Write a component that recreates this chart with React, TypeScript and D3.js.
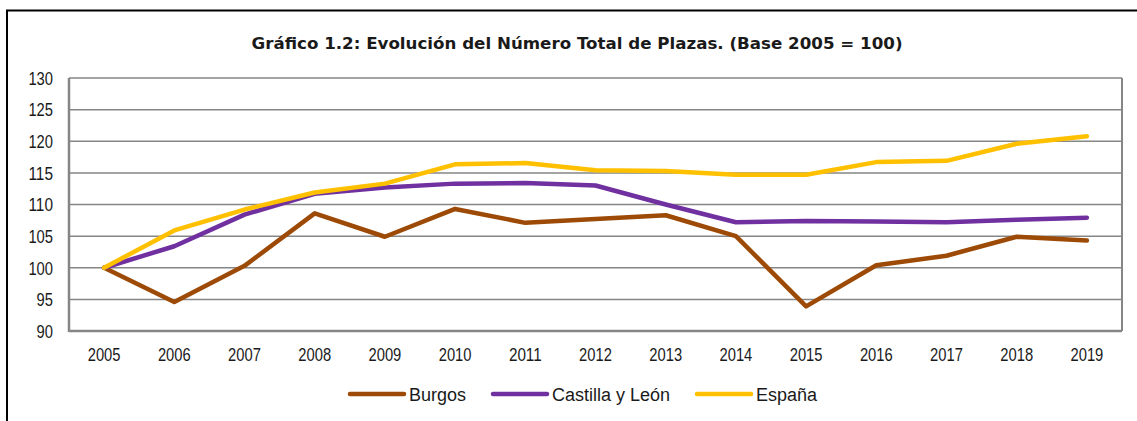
import * as d3 from "d3";

// Evolución del número total de plazas (base 2005 = 100)
const years = ["2005", "2006", "2007", "2008", "2009", "2010", "2011", "2012", "2013", "2014", "2015", "2016", "2017", "2018", "2019"];
const burgos = [100, 94.6, 100.3, 108.6, 104.9, 109.3, 107.1, 107.7, 108.3, 105.0, 93.9, 100.4, 101.9, 104.9, 104.3];
const castillaLeon = [100, 103.4, 108.4, 111.7, 112.7, 113.3, 113.4, 113.0, 110.0, 107.2, 107.4, 107.3, 107.2, 107.6, 107.9];
const espana = [100, 105.9, 109.2, 111.9, 113.3, 116.35, 116.55, 115.4, 115.3, 114.7, 114.7, 116.7, 116.9, 119.6, 120.8];
const yTicks = [90, 95, 100, 105, 110, 115, 120, 125, 130];

const seriesNames = ["Burgos", "Castilla y León", "España"];
const seriesValues = [burgos, castillaLeon, espana];
const colors = ["#9C4A06", "#7030A0", "#FFC000"];

const W = 1137;
const H = 421;
const PLOT = { left: 69, right: 1122, top: 78, bottom: 331 };
const LABEL_FONT = "'Liberation Sans', Arial, sans-serif";
const TITLE_FONT = "'DejaVu Sans', Verdana, sans-serif";
// las etiquetas de los ejes van en letra estrecha (tipo Arial Narrow)
const DIGIT_W = 8.2;

export default function App() {
  const x = d3.scaleBand<string>().domain(years).range([PLOT.left, PLOT.right]);
  const y = d3.scaleLinear().domain([90, 130]).range([PLOT.bottom, PLOT.top]);
  const cx = (yr: string) => (x(yr) ?? 0) + x.bandwidth() / 2;

  const line = d3
    .line<number>()
    .x((_, i) => cx(years[i]))
    .y((d) => y(d));

  // leyenda: posición de cada entrada
  const legendX = [350, 493, 697];

  return (
    <div style={{ position: "absolute", left: 0, top: 0 }}>
      <svg width={W} height={H} style={{ display: "block", background: "#fff" }}>
        {/* marco exterior */}
        <rect x={7} y={10.5} width={W + 20} height={H + 20} fill="none" stroke="#000" strokeWidth={2} />

        <text
          x={577}
          y={49}
          textAnchor="middle"
          fontFamily={TITLE_FONT}
          fontWeight="bold"
          fontSize={15.5}
          fill="#1a1a1a"
          textLength={651}
          lengthAdjust="spacingAndGlyphs"
        >
          Gráfico 1.2: Evolución del Número Total de Plazas. (Base 2005 = 100)
        </text>

        {/* rejilla */}
        {yTicks.map((t) => (
          <line key={t} x1={PLOT.left} x2={PLOT.right} y1={y(t)} y2={y(t)} stroke="#868686" strokeWidth={1.5} />
        ))}
        <line x1={PLOT.right} x2={PLOT.right} y1={PLOT.top} y2={PLOT.bottom} stroke="#868686" strokeWidth={2} />
        <line x1={PLOT.left} x2={PLOT.left} y1={PLOT.top} y2={PLOT.bottom + 1} stroke="#868686" strokeWidth={2.5} />
        <line x1={PLOT.left} x2={PLOT.right} y1={PLOT.bottom} y2={PLOT.bottom} stroke="#868686" strokeWidth={2.5} />

        {/* eje Y */}
        {yTicks.map((t) => (
          <text
            key={t}
            x={53}
            y={y(t)}
            dy="0.36em"
            textAnchor="end"
            fontFamily={LABEL_FONT}
            fontSize={19}
            fill="#1a1a1a"
            textLength={String(t).length * DIGIT_W}
            lengthAdjust="spacingAndGlyphs"
          >
            {t}
          </text>
        ))}

        {/* eje X */}
        {years.map((yr) => (
          <text
            key={yr}
            x={cx(yr)}
            y={361}
            textAnchor="middle"
            fontFamily={LABEL_FONT}
            fontSize={19}
            fill="#1a1a1a"
            textLength={yr.length * DIGIT_W}
            lengthAdjust="spacingAndGlyphs"
          >
            {yr}
          </text>
        ))}

        {/* series */}
        {seriesValues.map((vals, i) => (
          <path
            key={seriesNames[i]}
            d={line(vals) ?? ""}
            fill="none"
            stroke={colors[i]}
            strokeWidth={4.5}
            strokeLinejoin="round"
            strokeLinecap="round"
          />
        ))}

        {/* leyenda */}
        {seriesNames.map((name, i) => (
          <g key={name} transform={`translate(${legendX[i]},394)`}>
            <line x1={0} x2={54} y1={0} y2={0} stroke={colors[i]} strokeWidth={4.5} strokeLinecap="round" />
            <text x={59} y={7} fontFamily={LABEL_FONT} fontSize={18} fill="#1a1a1a">
              {name}
            </text>
          </g>
        ))}
      </svg>
    </div>
  );
}
